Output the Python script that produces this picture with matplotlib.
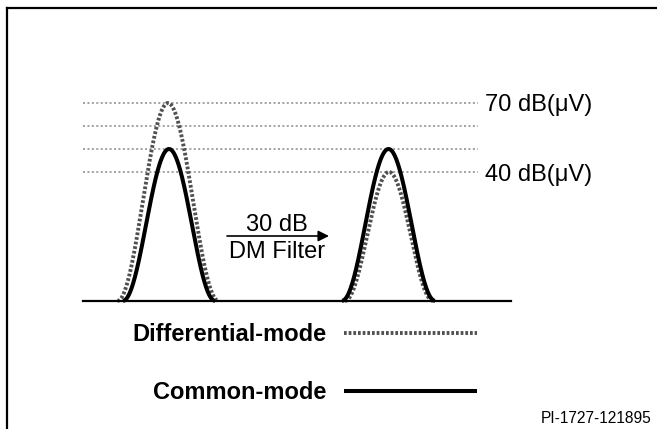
import numpy as np
import matplotlib
matplotlib.use("Agg")
import matplotlib.pyplot as plt
from matplotlib.lines import Line2D

plt.rcParams['font.family'] = ['Liberation Sans', 'DejaVu Sans']

# ---------------- data ----------------
ref_levels_db = [70, 60, 50, 40]
ref_label_levels = [70, 40]
ref_label_texts = ["70 dB(\u03bcV)", "40 dB(\u03bcV)"]
baseline_db = -16
peak_freqs_cm = [169, 388.5]      # arbitrary frequency units
peak_freqs_dm = [168, 389]
cm_peak_db = [50, 50]
dm_peak_db = [70, 40]
cm_halfwidth = [46, 46.5]
dm_halfwidth = [50.5, 44]
series_names = ["Differential-mode", "Common-mode"]
filter_text_top = "30 dB"
filter_text_bottom = "DM Filter"
doc_id = "PI-1727-121895"

# ---------------- layout ----------------
W, H = 657, 429
PX_PER_DB = 2.3
Y70 = 103.0


def px2db(p):
    return 70 - (p - Y70) / PX_PER_DB


fig = plt.figure(figsize=(W / 100, H / 100), dpi=100)
ax = fig.add_axes([0, 0, 1, 1])
ax.set_xlim(0, W)
ax.set_ylim(px2db(H), px2db(0))
ax.axis('off')

# frame (top and left only)
fig.add_artist(Line2D([7 / W, 1], [1 - 8 / H, 1 - 8 / H], transform=fig.transFigure,
                      color='black', lw=1.6, solid_capstyle='projecting'))
fig.add_artist(Line2D([7 / W, 7 / W], [0, 1 - 8 / H], transform=fig.transFigure,
                      color='black', lw=1.6, solid_capstyle='projecting'))

# reference dotted lines
for lv in ref_levels_db:
    ax.plot([83, 478], [lv, lv], color='#888888', lw=1.1, ls=(0, (1.3, 1.6)), zorder=1)
for lv, txt in zip(ref_label_levels, ref_label_texts):
    ax.text(485, lv - 2.5 / PX_PER_DB, txt, fontsize=17, va='center', ha='left',
            color='black')

# baseline
ax.plot([83, 511], [baseline_db, baseline_db], color='black', lw=1.6, zorder=4)


def pulse(center, halfwidth, peak, n=300):
    t = np.linspace(-1, 1, n)
    x = center + halfwidth * t
    g = (1 + np.cos(np.pi * t)) / 2
    return x, baseline_db + (peak - baseline_db) * g


dm_lines, cm_lines = [], []
for i in range(len(peak_freqs_cm)):
    x, y = pulse(peak_freqs_dm[i], dm_halfwidth[i], dm_peak_db[i])
    l, = ax.plot(x, y, color='#505050', lw=2.8, ls=(0, (0.7, 0.5)),
                 label=series_names[0] if i == 0 else None, zorder=2)
    dm_lines.append(l)
    x, y = pulse(peak_freqs_cm[i], cm_halfwidth[i], cm_peak_db[i])
    l, = ax.plot(x, y, color='black', lw=2.9, solid_capstyle='butt',
                 label=series_names[1] if i == 0 else None, zorder=3)
    cm_lines.append(l)

# filter arrow
ax.annotate('', xy=(329, px2db(236)), xytext=(227, px2db(236)),
            arrowprops=dict(arrowstyle='-|>', color='black', lw=1.2,
                            mutation_scale=16, shrinkA=0, shrinkB=0))
ax.text(277, px2db(231), filter_text_top, fontsize=17, ha='center', va='baseline')
ax.text(277, px2db(258), filter_text_bottom, fontsize=17, ha='center', va='baseline')

# legend
ax.legend(handles=[dm_lines[0], cm_lines[0]], loc='center',
          bbox_to_anchor=(304.5, px2db(363.5)), bbox_transform=ax.transData,
          markerfirst=False, frameon=False,
          prop={'weight': 'bold', 'size': 17},
          handlelength=5.6, handletextpad=0.76, labelspacing=1.5,
          borderpad=0, borderaxespad=0)

ax.text(652, px2db(423), doc_id, fontsize=11.2, ha='right', va='baseline')

fig.savefig('out.png', dpi=100)
